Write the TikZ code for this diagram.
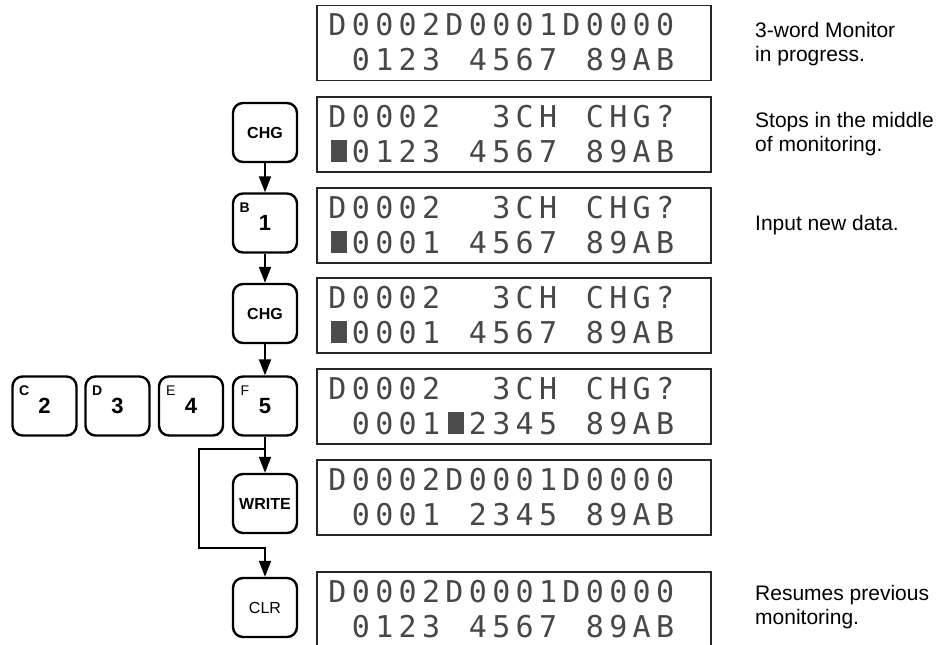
\documentclass[tikz,border=0pt]{standalone}
\usepackage{fontspec}
\setmainfont{Liberation Sans}
\newfontfamily\lcdfont{DejaVu Sans Mono}
\usetikzlibrary{arrows.meta}

% one line of the display, one character per cell
\newcommand{\lcdrow}[3]{%
  \foreach \c [count=\i from 0] in {#3}
    {\node[lcd] (#1-\i) at (337.5+23.4*\i,#2) {\c};}}

\begin{document}
\begin{tikzpicture}[x=1pt,y=-1pt,
    disp/.style={draw=black!85, line width=1.2pt, minimum width=394pt, minimum height=75pt, inner sep=0pt},
    lcd/.style={anchor=base, inner sep=0pt, text=black!72, font=\lcdfont\fontsize{30}{30}\selectfont},
    cursor/.style={fill=black!70},
    key/.style={draw, line width=2.4pt, rounded corners=10pt, minimum width=64pt, minimum height=59pt, inner sep=0pt, font=\bfseries\fontsize{16}{16}\selectfont},
    numkey/.style={key, font=\bfseries\fontsize{22}{22}\selectfont},
    keylet/.style={inner sep=0pt, font=\fontsize{14}{14}\selectfont},
    note/.style={anchor=west, align=left, inner sep=0pt, font=\fontsize{21}{24}\selectfont},
    flow/.style={line width=2.2pt, -{Triangle[length=16pt,width=12pt]}}]
    \useasboundingbox (0,0) rectangle (938,645);

    \foreach \n/\y in {1/43,2/134.5,3/225.5,4/315.5,5/406.5,6/497.5,7/609.5}
        {\node[disp] (d\n) at (514,\y) {};}

    \lcdrow{d1a}{35.5}{D,0,0,0,2,D,0,0,0,1,D,0,0,0,0}
    \lcdrow{d1b}{70.5}{ ,0,1,2,3, ,4,5,6,7, ,8,9,A,B}
    \lcdrow{d2a}{127}{D,0,0,0,2, , ,3,C,H, ,C,H,G,?}
    \lcdrow{d2b}{162}{ ,0,1,2,3, ,4,5,6,7, ,8,9,A,B}
    \lcdrow{d3a}{218}{D,0,0,0,2, , ,3,C,H, ,C,H,G,?}
    \lcdrow{d3b}{253}{ ,0,0,0,1, ,4,5,6,7, ,8,9,A,B}
    \lcdrow{d4a}{308}{D,0,0,0,2, , ,3,C,H, ,C,H,G,?}
    \lcdrow{d4b}{343}{ ,0,0,0,1, ,4,5,6,7, ,8,9,A,B}
    \lcdrow{d5a}{399}{D,0,0,0,2, , ,3,C,H, ,C,H,G,?}
    \lcdrow{d5b}{434}{ ,0,0,0,1, ,2,3,4,5, ,8,9,A,B}
    \lcdrow{d6a}{490}{D,0,0,0,2,D,0,0,0,1,D,0,0,0,0}
    \lcdrow{d6b}{525}{ ,0,0,0,1, ,2,3,4,5, ,8,9,A,B}
    \lcdrow{d7a}{602}{D,0,0,0,2,D,0,0,0,1,D,0,0,0,0}
    \lcdrow{d7b}{637}{ ,0,1,2,3, ,4,5,6,7, ,8,9,A,B}

    % cursor blocks
    \foreach \x/\y in {0/162,0/253,0/343,5/434}
        {\fill[cursor] (330.5+23.4*\x,\y) rectangle ++(16,-22);}

    \node[key] (chga) at (265,132.5) {CHG};
    \node[numkey] (kb) at (265,223) {1};
    \node[key] (chgb) at (265,313.5) {CHG};
    \node[numkey] (kc) at (44.5,406) {2};
    \node[numkey] (kd) at (117.5,406) {3};
    \node[numkey] (ke) at (191,406) {4};
    \node[numkey] (kf) at (265,406) {5};
    \node[key] (write) at (265,503.5) {WRITE};
    \node[key, font=\fontsize{16}{16}\selectfont] (clr) at (265,607.5) {CLR};

    \node[keylet, font=\bfseries\fontsize{14}{14}\selectfont] (lb) at ([shift={(13,15)}]kb.north west) {B};
    \node[keylet, font=\bfseries\fontsize{14}{14}\selectfont] (lc) at ([shift={(13,15)}]kc.north west) {C};
    \node[keylet, font=\bfseries\fontsize{14}{14}\selectfont] (ld) at ([shift={(13,15)}]kd.north west) {D};
    \node[keylet] (le) at ([shift={(13,15)}]ke.north west) {E};
    \node[keylet] (lf) at ([shift={(13,15)}]kf.north west) {F};

    \draw[flow] (chga) -- (kb);
    \draw[flow] (kb) -- (chgb);
    \draw[flow] (chgb) -- (kf);
    \draw[flow] (kf) -- (write);
    \coordinate (br) at (265,449);
    \coordinate (bl) at (199,548);
    \draw[flow] (br) -- (br -| bl) -- (bl) -- (bl -| clr.north) -- (clr.north);

    \node[note] (n1) at (755,44) {3-word Monitor\\in progress.};
    \node[note] (n2) at (755,134) {Stops in the middle\\of monitoring.};
    \node[note] (n3) at (755,225) {Input new data.};
    \node[note] (n7) at (755,607) {Resumes previous\\monitoring.};
\end{tikzpicture}
\end{document}
